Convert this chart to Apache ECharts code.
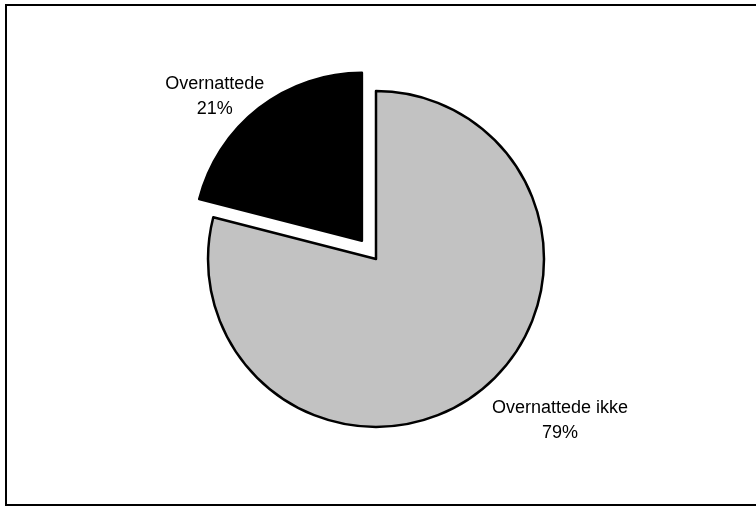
<!DOCTYPE html>
<html>
<head>
<meta charset="utf-8">
<script src="https://cdn.jsdelivr.net/npm/echarts@6/dist/echarts.min.js"></script>
<style>
  html, body { margin: 0; padding: 0; background: #fff; }
  #chart { width: 756px; height: 506px; }
</style>
</head>
<body>
<div id="chart"></div>
<script>
const categories = ['Overnattede ikke', 'Overnattede'];
const values = [79, 21];
const sliceColors = ['#c2c2c2', '#000000'];

const chart = echarts.init(document.getElementById('chart'), null, { renderer: 'canvas' });

const labelSpots = [
  { x: 560, y: 421 },
  { x: 199, y: 74 }
];

chart.setOption({
  animation: false,
  backgroundColor: '#ffffff',
  graphic: [{
    type: 'rect',
    shape: { x: 6, y: 5, width: 770, height: 500 },
    style: { fill: 'none', stroke: '#000', lineWidth: 2 },
    z: 100
  }],
  series: [{
    type: 'pie',
    center: [376, 259],
    radius: 168,
    startAngle: 90,
    clockwise: true,
    selectedMode: 'single',
    selectedOffset: 23,
    emphasis: { disabled: true },
    itemStyle: { borderColor: '#000', borderWidth: 2.5 },
    label: {
      show: true,
      position: 'outside',
      formatter: '{b}\n{c}%',
      fontFamily: 'Liberation Sans, Arial, sans-serif',
      fontSize: 18,
      lineHeight: 25,
      color: '#000',
      align: 'center'
    },
    labelLine: { show: false },
    labelLayout: function (params) {
      const s = labelSpots[params.dataIndex];
      return { x: s.x, y: s.y, align: 'center', verticalAlign: 'middle' };
    },
    data: categories.map((name, i) => ({
      name: name,
      value: values[i],
      selected: i === 1,
      itemStyle: { color: sliceColors[i] }
    }))
  }]
});
</script>
</body>
</html>
